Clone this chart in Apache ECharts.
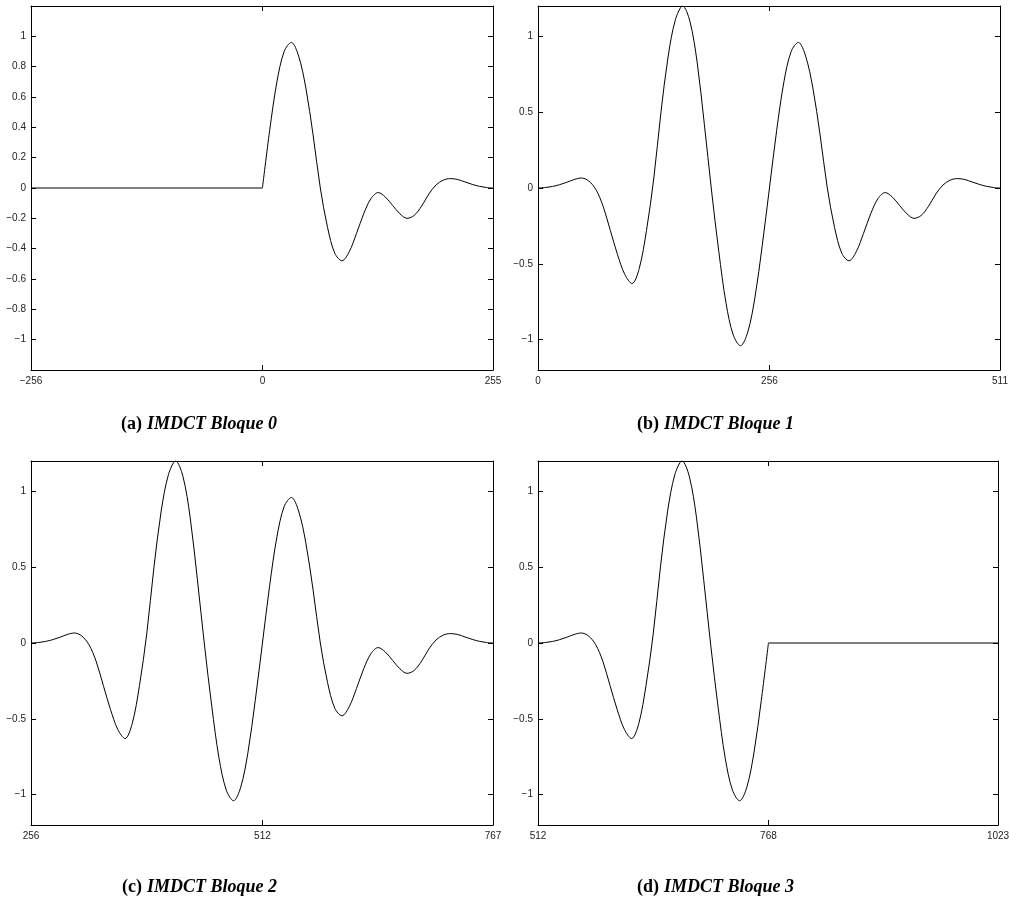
<!DOCTYPE html>
<html>
<head>
<meta charset="utf-8">
<title>IMDCT Bloques</title>
<script src="https://cdn.jsdelivr.net/npm/echarts@6/dist/echarts.min.js"></script>
<style>
  html, body { margin: 0; padding: 0; background: #fff; }
  #chart { width: 1009px; height: 900px; }
</style>
</head>
<body>
<div id="chart"></div>
<script>
// sample index inside one 512-sample block and the IMDCT output
var sampleIdx = [0, 8, 16, 24, 32, 40, 48, 56, 64, 72, 80, 88, 96, 104, 112, 120,
    128, 136, 144, 152, 160, 168, 176, 184, 192, 200, 208, 216, 224, 232, 240, 248,
    256, 264, 272, 280, 288, 296, 304, 312, 320, 328, 336, 344, 352, 360, 368, 376,
    384, 392, 400, 408, 416, 424, 432, 440, 448, 456, 464, 472, 480, 488, 496, 504, 511];
var imdctWave = [0, 0.003, 0.01, 0.022, 0.038, 0.056, 0.066, 0.047, -0.01, -0.12, -0.28, -0.44, -0.57, -0.63, -0.53, -0.28,
    0.06, 0.50, 0.87, 1.11, 1.2, 1.10, 0.83, 0.42, -0.02, -0.42, -0.76, -0.97, -1.04, -0.95, -0.72, -0.38,
    0, 0.38, 0.70, 0.90, 0.96, 0.87, 0.66, 0.35, 0, -0.26, -0.43, -0.48, -0.42, -0.30, -0.17, -0.07,
    -0.03, -0.06, -0.115, -0.17, -0.20, -0.18, -0.12, -0.04, 0.02, 0.052, 0.062, 0.056, 0.04, 0.024, 0.011, 0.003, 0];

// per block: x-axis range, x tick labels, y ticks, caption
var blockXMin = [-256, 0, 256, 512];
var blockXMax = [255, 511, 767, 1023];
var blockXTicks = [[-256, 0, 255], [0, 256, 511], [256, 512, 767], [512, 768, 1023]];
var yTicksFine = [-1, -0.8, -0.6, -0.4, -0.2, 0, 0.2, 0.4, 0.6, 0.8, 1];
var yTicksCoarse = [-1, -0.5, 0, 0.5, 1];
var captionTag = ['(a)', '(b)', '(c)', '(d)'];
var captionText = ['IMDCT Bloque 0', 'IMDCT Bloque 1', 'IMDCT Bloque 2', 'IMDCT Bloque 3'];

var gridBoxes = [
    { left: 31, top: 6, width: 462, height: 364 },
    { left: 538, top: 6, width: 462, height: 364 },
    { left: 31, top: 461, width: 462, height: 364 },
    { left: 538, top: 461, width: 460, height: 364 }
];
var captionPos = [[116, 410], [632, 410], [117, 873], [632, 873]];

function fmt(v) {
    var s = String(Math.round(v * 10) / 10);
    return s.replace('-', '\u2212');
}

function axisBase(gi, pos, isX, ticks, showLabel, min, max) {
    return {
        gridIndex: gi,
        type: 'value',
        position: pos,
        min: min,
        max: max,
        axisLine: { show: true, onZero: false, lineStyle: { color: '#000', width: 1 } },
        axisTick: { show: true, inside: true, length: 5, customValues: ticks, lineStyle: { color: '#000', width: 1 } },
        axisLabel: {
            show: showLabel, customValues: ticks, formatter: fmt,
            fontFamily: 'Liberation Sans, Arial, sans-serif', fontSize: 10, color: '#222',
            margin: isX ? 6 : 5
        },
        splitLine: { show: false }
    };
}

// build the plotted points of each block from the shared waveform
function blockSeries(b) {
    var wave = [], flat = [];
    sampleIdx.forEach(function(n, i) {
        if (b === 0 && n >= 256) wave.push([n - 256, imdctWave[i]]);
        if (b === 1) wave.push([n, imdctWave[i]]);
        if (b === 2) wave.push([256 + n, imdctWave[i]]);
        if (b === 3 && n <= 256) wave.push([512 + n, imdctWave[i]]);
    });
    if (b === 0) flat = [[blockXMin[0], 0], [0, 0]];
    if (b === 3) flat = [[768, 0], [blockXMax[3], 0]];
    return { wave: wave, flat: flat };
}

var grids = [], xAxes = [], yAxes = [], series = [], titles = [];
for (var b = 0; b < 4; b++) {
    var g = gridBoxes[b];
    grids.push({ left: g.left, top: g.top, width: g.width, height: g.height, containLabel: false, outerBoundsMode: 'none', show: false });
    var yt = b === 0 ? yTicksFine : yTicksCoarse;
    xAxes.push(axisBase(b, 'bottom', true, blockXTicks[b], true, blockXMin[b], blockXMax[b]));
    xAxes.push(axisBase(b, 'top', true, blockXTicks[b], false, blockXMin[b], blockXMax[b]));
    yAxes.push(axisBase(b, 'left', false, yt, true, -1.2, 1.2));
    yAxes.push(axisBase(b, 'right', false, yt, false, -1.2, 1.2));

    var s = blockSeries(b);
    series.push({
        type: 'line', xAxisIndex: b * 2, yAxisIndex: b * 2, data: s.wave,
        smooth: 0.33, showSymbol: false, lineStyle: { color: '#000', width: 1 }
    });
    if (s.flat.length) {
        series.push({
            type: 'line', xAxisIndex: b * 2, yAxisIndex: b * 2, data: s.flat,
            showSymbol: false, lineStyle: { color: '#000', width: 1 }
        });
    }
    titles.push({
        text: '{t|' + captionTag[b] + '} {i|' + captionText[b] + '}',
        left: captionPos[b][0], top: captionPos[b][1],
        textStyle: {
            rich: {
                t: { fontFamily: 'Liberation Serif, DejaVu Serif, serif', fontWeight: 'bold', fontSize: 18, color: '#000' },
                i: { fontFamily: 'Liberation Serif, DejaVu Serif, serif', fontWeight: 'bold', fontStyle: 'italic', fontSize: 18, color: '#000' }
            }
        }
    });
}

var chart = echarts.init(document.getElementById('chart'), null, { renderer: 'canvas' });
chart.setOption({
    backgroundColor: '#fff',
    animation: false,
    title: titles,
    grid: grids,
    xAxis: xAxes,
    yAxis: yAxes,
    series: series
});
</script>
</body>
</html>
